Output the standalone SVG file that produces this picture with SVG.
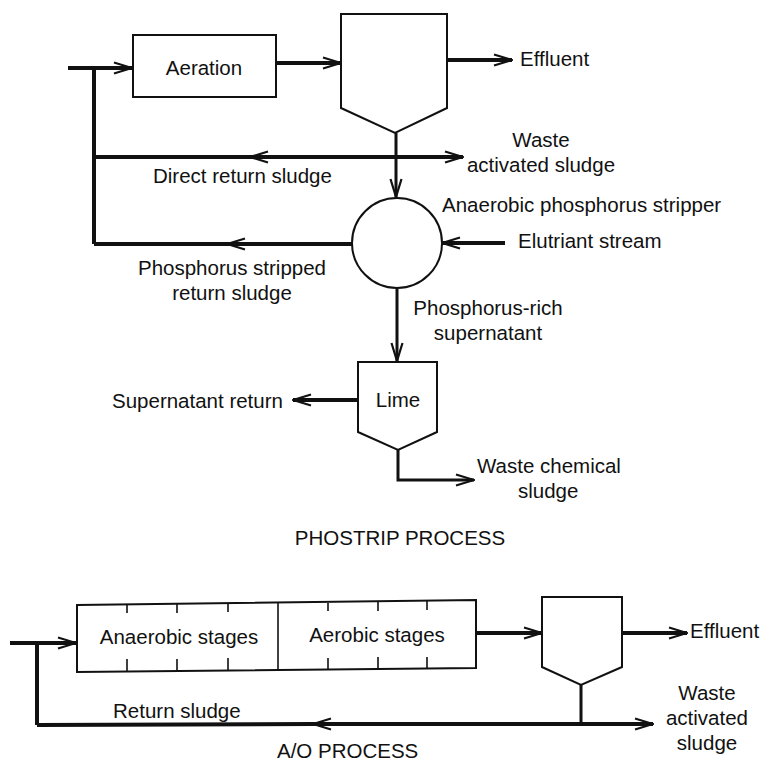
<svg xmlns="http://www.w3.org/2000/svg" width="769" height="761" viewBox="0 0 769 761">
<style>
.t{font-family:"Liberation Sans",Arial,sans-serif;font-size:20.5px;fill:#111}
.c{text-anchor:middle}
.box{fill:#fff;stroke:#111;stroke-width:2}
.flow{fill:none;stroke:#111;stroke-width:4}
.thin{fill:none;stroke:#111;stroke-width:3}
.tick{stroke:#111;stroke-width:1.6}
.ae{marker-end:url(#ah)}
.am{marker-mid:url(#ah)}
</style>
<defs>
<marker id="ah" viewBox="0 0 20 14" refX="19" refY="7" markerWidth="20" markerHeight="14" markerUnits="userSpaceOnUse" orient="auto">
<path d="M1,1.5 L19,7 L1,12.5" fill="none" stroke="#111" stroke-width="2.2"/>
</marker>
</defs>
<rect width="769" height="761" fill="#fff"/>

<g id="connectors">
<path class="flow ae" d="M68,68 L132,68"/>
<path class="flow" d="M94,68 L94,244"/>
<path class="flow ae" d="M276,63 L341,63"/>
<path class="flow ae" d="M447,60 L512,60"/>
<path class="flow ae" d="M395,157 L463,157"/>
<path class="flow am" d="M395,157 L250,157 L94,157"/>
<path class="thin ae" d="M396,133 L396,157 L396,197"/>
<path class="flow am" d="M352,244 L227,244 L94,244"/>
<path class="flow ae" d="M505,243 L442,243"/>
<path class="thin ae" d="M397,288 L397,361"/>
<path class="flow ae" d="M358,400 L293,400"/>
<path class="thin ae" d="M398,450 L398,480 L474,480"/>
<path class="flow ae" d="M10,643 L76,643"/>
<path class="flow" d="M37,643 L37,725"/>
<path class="flow ae" d="M476,633 L542,633"/>
<path class="flow ae" d="M622,633 L687,633"/>
<path class="thin" d="M581,685 L581,724"/>
<path class="flow ae" d="M581,724 L653,724"/>
<path class="flow am" d="M581,724 L313,724 L37,725"/>
</g>

<g id="aeration">
<rect class="box" x="133" y="35" width="143" height="62"/>
<text class="t c" x="204" y="75">Aeration</text>
</g>
<g id="clarifier1">
<path class="box" d="M341,14 L447,14 L447,108 L395,133 L341,108 Z"/>
</g>
<g id="effluent1"><text class="t" x="520" y="66">Effluent</text></g>
<g id="was1"><text class="t c" x="541" y="147">Waste</text><text class="t c" x="541" y="172">activated sludge</text></g>
<g id="drs"><text class="t" x="153" y="183">Direct return sludge</text></g>
<g id="stripper">
<circle class="box" cx="397" cy="243" r="45"/>
<text class="t" x="442" y="212">Anaerobic phosphorus stripper</text>
</g>
<g id="elutriant"><text class="t" x="518" y="248">Elutriant stream</text></g>
<g id="psrs"><text class="t c" x="232" y="275">Phosphorus stripped</text><text class="t c" x="232" y="300">return sludge</text></g>
<g id="prs"><text class="t c" x="488" y="315">Phosphorus-rich</text><text class="t c" x="488" y="340">supernatant</text></g>
<g id="lime">
<path class="box" d="M358,362 L437,362 L437,432 L398,450 L358,432 Z"/>
<text class="t c" x="398" y="407">Lime</text>
</g>
<g id="supret"><text class="t" x="112" y="408">Supernatant return</text></g>
<g id="wcs"><text class="t" x="477" y="473">Waste chemical</text><text class="t" x="518" y="498">sludge</text></g>
<g id="title1"><text class="t c" x="400" y="545">PHOSTRIP PROCESS</text></g>

<g id="reactor">
<path class="box" d="M77,605 L476,600 L476,668 L77,672 Z"/>
<path class="tick" d="M278,603 L278,670"/>
<path class="tick" d="M127,604 L127,613 M177,604 L177,613 M228,603 L228,612 M328,603 L328,611 M378,602 L378,611 M427,601 L427,610"/>
<path class="tick" d="M127,671 L127,659 M177,671 L177,659 M228,670 L228,658 M328,670 L328,658 M378,669 L378,657 M427,669 L427,657"/>
<text class="t c" x="179" y="644">Anaerobic stages</text>
<text class="t c" x="377" y="642">Aerobic stages</text>
</g>
<g id="clarifier2">
<path class="box" d="M542,597 L622,597 L622,667 L581,685 L542,667 Z"/>
</g>
<g id="effluent2"><text class="t" x="690" y="638">Effluent</text></g>
<g id="was2"><text class="t c" x="707" y="700">Waste</text><text class="t c" x="707" y="725">activated</text><text class="t c" x="707" y="750">sludge</text></g>
<g id="rs"><text class="t" x="113" y="718">Return sludge</text></g>
<g id="title2"><text class="t" x="277" y="758">A/O PROCESS</text></g>
</svg>
